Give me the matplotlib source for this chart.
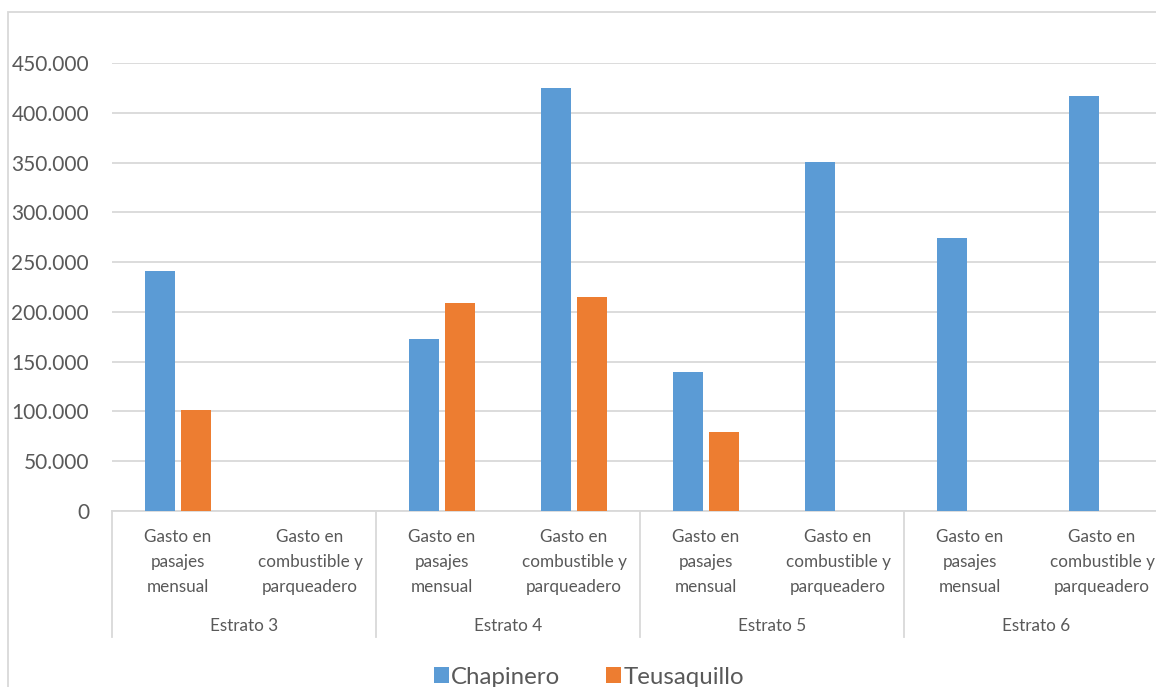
import matplotlib.pyplot as plt
import matplotlib.transforms as mtrans
from matplotlib.patches import Patch, Rectangle
from matplotlib.ticker import FuncFormatter

# data
estratos = ["Estrato 3", "Estrato 4", "Estrato 5", "Estrato 6"]
gastos = ["Gasto en\npasajes\nmensual", "Gasto en\ncombustible y\nparqueadero"]
chapinero = [241000, 0, 173000, 425000, 140000, 350500, 274000, 417000]
teusaquillo = [101500, 0, 209000, 215000, 79500, 0, 0, 0]
series = ["Chapinero", "Teusaquillo"]

blue = "#5B9BD5"
orange = "#ED7D31"
txt = "#595959"
grid = "#D9D9D9"

plt.rcParams['font.family'] = ['Lato', 'DejaVu Sans']

fig = plt.figure(figsize=(11.56, 6.87), dpi=100)
W, H = 1156.0, 687.0
ax = fig.add_axes([112 / W, 1 - 511 / H, 1056 / W, 448 / H])

x = list(range(len(chapinero)))
bw = 0.227
ax.bar([i - 0.14 for i in x], chapinero, width=bw, color=blue, zorder=3)
ax.bar([i + 0.14 for i in x], teusaquillo, width=bw, color=orange, zorder=3)

ax.set_xlim(-0.5, 7.5)
ax.set_ylim(0, 450000)
ax.set_yticks(range(0, 450001, 50000))
ax.yaxis.set_major_formatter(FuncFormatter(lambda v, p: "0" if v == 0 else "{:,.0f}".format(v).replace(",", ".")))
ax.tick_params(axis='y', length=0, pad=16.5, labelsize=15, labelcolor=txt)
ax.set_xticks([])
ax.grid(axis='y', color=grid, linewidth=1.3, zorder=0)
for s in ['top', 'right', 'left']:
    ax.spines[s].set_visible(False)
ax.spines['bottom'].set_color(grid)
ax.spines['bottom'].set_linewidth(1.3)

# multi-level category axis
tr = mtrans.blended_transform_factory(ax.transData, fig.transFigure)
for k, est in enumerate(estratos):
    for j, g in enumerate(gastos):
        ax.text(2 * k + j, 1 - 562 / H, g, transform=tr, ha='center', va='center',
                fontsize=12.3, color=txt, linespacing=1.66)
    ax.text(2 * k + 0.5, 1 - 626 / H, est, transform=tr, ha='center', va='center',
            fontsize=12.3, color=txt)
for xs in [-0.5, 1.5, 3.5, 5.5, 7.5]:
    ax.plot([xs, xs], [1 - 511 / H, 1 - 637 / H], transform=tr, color=grid,
            linewidth=1.3, clip_on=False)

# chart border
fig.patches.append(Rectangle((7.5 / W, -0.1), 1.2, 1 - 11.5 / H + 0.1, transform=fig.transFigure,
                             fill=False, edgecolor=grid, linewidth=1.3))

handles = [Patch(facecolor=blue), Patch(facecolor=orange)]
fig.legend(handles, series, loc='center', bbox_to_anchor=(589 / W, 1 - 677 / H), ncol=2,
           frameon=False, fontsize=17.3, labelcolor=txt, handlelength=0.62, handleheight=0.62,
           handletextpad=0.1, columnspacing=1.9)

fig.savefig("out.png", dpi=100)
